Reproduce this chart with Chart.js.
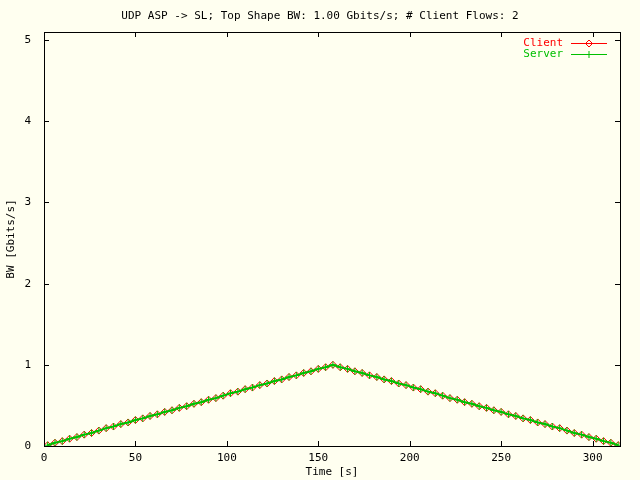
<!DOCTYPE html>
<html>
<head>
<meta charset="utf-8">
<script src="https://cdn.jsdelivr.net/npm/chart.js@4/dist/chart.umd.min.js"></script>
<style>
  html, body { margin: 0; padding: 0; background: #fffff0; }
  canvas { display: block; }
</style>
</head>
<body>
<canvas id="bw-chart" width="640" height="480"></canvas>
<script>
// sample times (s)
const times = [2, 6, 10, 14, 18, 22, 26, 30, 34, 38, 42, 46, 50, 54, 58, 62, 66, 70, 74, 78,
  82, 86, 90, 94, 98, 102, 106, 110, 114, 118, 122, 126, 130, 134, 138, 142, 146, 150, 154, 158,
  162, 166, 170, 174, 178, 182, 186, 190, 194, 198, 202, 206, 210, 214, 218, 222, 226, 230, 234, 238,
  242, 246, 250, 254, 258, 262, 266, 270, 274, 278, 282, 286, 290, 294, 298, 302, 306, 310, 314];

// bandwidth in Gbits/s
const clientBW = [0.01, 0.04, 0.06, 0.09, 0.11, 0.14, 0.16, 0.19, 0.22, 0.24, 0.27, 0.29, 0.32, 0.34, 0.37, 0.39, 0.42, 0.44, 0.47, 0.49,
  0.52, 0.54, 0.57, 0.59, 0.62, 0.65, 0.67, 0.70, 0.72, 0.75, 0.77, 0.80, 0.82, 0.85, 0.87, 0.90, 0.92, 0.95, 0.97, 1.00,
  0.97, 0.95, 0.92, 0.90, 0.87, 0.85, 0.82, 0.80, 0.77, 0.75, 0.72, 0.70, 0.67, 0.65, 0.62, 0.59, 0.57, 0.54, 0.52, 0.49,
  0.47, 0.44, 0.42, 0.39, 0.37, 0.34, 0.32, 0.29, 0.27, 0.24, 0.22, 0.19, 0.16, 0.14, 0.11, 0.09, 0.06, 0.04, 0.01];
const serverBW = [0.01, 0.04, 0.06, 0.09, 0.11, 0.14, 0.16, 0.19, 0.22, 0.24, 0.27, 0.29, 0.32, 0.34, 0.37, 0.39, 0.42, 0.44, 0.47, 0.49,
  0.52, 0.54, 0.57, 0.59, 0.62, 0.65, 0.67, 0.70, 0.72, 0.75, 0.77, 0.80, 0.82, 0.85, 0.87, 0.90, 0.92, 0.95, 0.97, 1.00,
  0.97, 0.95, 0.92, 0.90, 0.87, 0.85, 0.82, 0.80, 0.77, 0.75, 0.72, 0.70, 0.67, 0.65, 0.62, 0.59, 0.57, 0.54, 0.52, 0.49,
  0.47, 0.44, 0.42, 0.39, 0.37, 0.34, 0.32, 0.29, 0.27, 0.24, 0.22, 0.19, 0.16, 0.14, 0.11, 0.09, 0.06, 0.04, 0.01];

const seriesNames = ['Client', 'Server'];
const titleText = 'UDP ASP -> SL; Top Shape BW: 1.00 Gbits/s; # Client Flows: 2';

const FONT = 'DejaVu Sans Mono';
const RED = '#ff0000';
const GREEN = '#00c000';

// gnuplot style frame: box, inward ticks on all four sides, legend top right
const gnuplotFrame = {
  id: 'gnuplotFrame',
  beforeDraw(chart) {
    const ctx = chart.ctx;
    ctx.save();
    ctx.fillStyle = '#fffff0';
    ctx.fillRect(0, 0, chart.width, chart.height);
    ctx.restore();
  },
  afterDraw(chart) {
    const ctx = chart.ctx;
    const a = chart.chartArea;
    const xs = chart.scales.x, ys = chart.scales.y;
    const len = 5;
    ctx.save();
    ctx.strokeStyle = '#000';
    ctx.lineWidth = 1;
    ctx.strokeRect(Math.round(a.left) + 0.5, Math.round(a.top) + 0.5,
      Math.round(a.right - a.left), Math.round(a.bottom - a.top));
    ctx.beginPath();
    xs.ticks.forEach(t => {
      const px = Math.round(xs.getPixelForValue(t.value)) + 0.5;
      ctx.moveTo(px, a.bottom); ctx.lineTo(px, a.bottom - len);
      ctx.moveTo(px, a.top); ctx.lineTo(px, a.top + len);
    });
    ys.ticks.forEach(t => {
      const py = Math.round(ys.getPixelForValue(t.value)) + 0.5;
      ctx.moveTo(a.left, py); ctx.lineTo(a.left + len, py);
      ctx.moveTo(a.right, py); ctx.lineTo(a.right - len, py);
    });
    ctx.stroke();

    // legend
    ctx.font = '11px "' + FONT + '"';
    ctx.textAlign = 'right';
    ctx.textBaseline = 'middle';
    const rows = [
      { label: seriesNames[0], color: RED, style: 'rectRot' },
      { label: seriesNames[1], color: GREEN, style: 'cross' }
    ];
    rows.forEach((r, i) => {
      const y = Math.round(a.top + 11 + i * 11) + 0.5;
      ctx.fillStyle = r.color;
      ctx.fillText(r.label, a.right - 57, y);
      ctx.strokeStyle = r.color;
      ctx.lineWidth = 1;
      ctx.beginPath();
      ctx.moveTo(a.right - 49, y);
      ctx.lineTo(a.right - 13, y);
      ctx.stroke();
      ctx.fillStyle = 'rgba(0,0,0,0)';
      Chart.helpers.drawPoint(ctx, {
        pointStyle: r.style, radius: 3.5, rotation: 0, borderWidth: 1
      }, a.right - 31, y);
    });
    ctx.restore();
  }
};

const ctx = document.getElementById('bw-chart').getContext('2d');
const bwChart = new Chart(ctx, {
  type: 'line',
  data: {
    datasets: [{
      label: seriesNames[0],
      data: times.map((t, i) => ({ x: t, y: clientBW[i] })),
      borderColor: RED,
      backgroundColor: 'rgba(0,0,0,0)',
      borderWidth: 1,
      pointStyle: 'rectRot',
      pointRadius: 3.5,
      pointBorderWidth: 1,
      pointBorderColor: RED,
      pointBackgroundColor: 'rgba(0,0,0,0)',
      order: 1
    }, {
      label: seriesNames[1],
      data: times.map((t, i) => ({ x: t, y: serverBW[i] })),
      borderColor: GREEN,
      backgroundColor: 'rgba(0,0,0,0)',
      borderWidth: 2,
      pointStyle: 'cross',
      pointRadius: 3.5,
      pointBorderWidth: 1,
      pointBorderColor: GREEN,
      order: 0
    }]
  },
  options: {
    responsive: false,
    animation: false,
    plugins: {
      legend: { display: false },
      tooltip: { enabled: false },
      title: {
        display: true,
        text: titleText,
        color: '#000',
        font: { family: FONT, size: 11, weight: 'normal' },
        padding: { top: 10, bottom: 8.8 }
      }
    },
    scales: {
      x: {
        type: 'linear',
        min: 0,
        max: 315,
        grid: { display: false, drawTicks: false },
        border: { display: false },
        ticks: {
          stepSize: 50,
          includeBounds: false,
          maxRotation: 0,
          padding: 6,
          color: '#000',
          font: { family: FONT, size: 11 }
        },
        title: {
          display: true,
          text: 'Time [s]',
          color: '#000',
          font: { family: FONT, size: 11 },
          padding: { top: 0, bottom: 1 }
        },
        afterFit(scale) { scale.height = 34; }
      },
      y: {
        min: 0,
        max: 5.1,
        grid: { display: false, drawTicks: false },
        border: { display: false },
        ticks: {
          stepSize: 1,
          includeBounds: false,
          padding: 13,
          color: '#000',
          font: { family: FONT, size: 11 }
        },
        title: {
          display: true,
          text: 'BW [Gbits/s]',
          color: '#000',
          font: { family: FONT, size: 11 },
          padding: { top: 5, bottom: 0 }
        },
        afterFit(scale) { scale.width = 44; }
      },
      // empty right-hand margin so the title stays centred on the page
      yRight: {
        position: 'right',
        min: 0,
        max: 5.1,
        grid: { display: false, drawTicks: false },
        border: { display: false },
        ticks: { display: false },
        afterFit(scale) { scale.width = 20; }
      }
    }
  },
  plugins: [gnuplotFrame]
});
</script>
</body>
</html>
